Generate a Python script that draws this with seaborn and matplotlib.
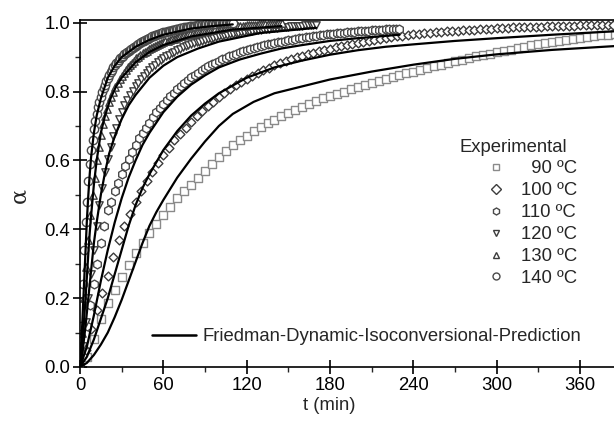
import numpy as np
import pandas as pd
import matplotlib.pyplot as plt
import seaborn as sns
from matplotlib.ticker import MultipleLocator
from matplotlib.lines import Line2D

# experimental conversion curves (alpha vs t, min)
t_90 = np.arange(0, 386, 5)
a_90 = [0, .03, .08, .14, .185, .225, .26, .295, .33, .36, .39, .415, .44, .465, .49, .51,
        .53, .55, .57, .59, .61, .628, .645, .66, .672, .684, .697, .708, .718, .728, .737,
        .746, .755, .764, .772, .78, .787, .794, .8, .806, .812, .818, .824, .83, .836, .842,
        .848, .853, .858, .863, .868, .873, .878, .883, .888, .893, .898, .902, .906, .91,
        .914, .918, .922, .926, .93, .934, .937, .94, .943, .946, .949, .952, .955, .958,
        .96, .963, .965, .967]

t_100 = np.arange(0, 385, 4)
a_100 = [0, .05, .11, .165, .215, .265, .32, .368, .41, .445, .478, .51, .54, .567, .592,
         .615, .637, .658, .677, .695, .712, .728, .743, .757, .771, .784, .796, .807, .818,
         .828, .837, .846, .854, .862, .869, .876, .882, .888, .894, .899, .904, .909, .913,
         .917, .921, .925, .929, .932, .935, .938, .941, .944, .947, .95, .952, .955, .957,
         .96, .962, .964, .966, .968, .969, .971, .972, .974, .975, .976, .977, .978, .979,
         .98, .981, .982, .983, .984, .984, .985, .986, .986, .987, .987, .988, .988, .989,
         .989, .99, .99, .991, .991, .992, .992, .993, .993, .993, .994, .994]

t_110 = np.arange(0, 231, 2.5)
a_110 = [0, .06, .12, .18, .24, .3, .36, .41, .455, .48, .51, .535, .56, .585, .605, .625,
         .645, .665, .68, .695, .71, .725, .74, .752, .764, .776, .787, .797, .807, .816,
         .825, .833, .841, .848, .855, .862, .868, .874, .879, .884, .889, .894, .898, .902,
         .906, .91, .914, .917, .92, .923, .926, .929, .932, .934, .937, .939, .941, .943,
         .945, .947, .949, .951, .953, .955, .956, .958, .959, .961, .962, .963, .965, .966,
         .967, .968, .969, .97, .971, .972, .973, .974, .975, .976, .976, .977, .978, .979,
         .979, .98, .981, .981, .982, .982, .983]

t_120 = np.arange(0, 171, 2)
a_120 = [0, .06, .13, .2, .27, .34, .41, .47, .52, .565, .605, .64, .67, .695, .72, .74, .76,
         .775, .79, .803, .815, .826, .836, .846, .855, .863, .871, .878, .885, .891, .897,
         .902, .907, .912, .916, .92, .924, .928, .931, .934, .937, .94, .943, .945, .948,
         .95, .952, .954, .956, .958, .96, .962, .964, .965, .967, .968, .97, .971, .972,
         .974, .975, .976, .977, .978, .979, .98, .981, .982, .983, .984, .985, .985, .986,
         .987, .988, .988, .989, .99, .99, .991, .991, .992, .992, .993, .993, .994]

t_130 = np.arange(0, 146, 1.5)
a_130 = [0, .1, .2, .29, .37, .44, .5, .55, .6, .64, .675, .705, .73, .75, .77, .785, .8,
         .812, .824, .835, .845, .854, .862, .87, .877, .884, .89, .896, .901, .906, .911,
         .915, .919, .923, .927, .93, .933, .936, .939, .942, .944, .946, .948, .95, .952,
         .954, .956, .958, .96, .962, .963, .965, .966, .968, .969, .97, .972, .973, .974,
         .975, .976, .977, .978, .979, .98, .981, .982, .983, .984, .985, .986, .986, .987,
         .988, .988, .989, .99, .99, .991, .991, .992, .992, .993, .993, .994, .994, .995,
         .995, .995, .996, .996, .996, .997, .997, .997, .998, .998, .998]

t_140 = np.arange(0, 111, 1)
a_140 = [0, .12, .24, .34, .42, .48, .54, .59, .63, .66, .69, .715, .735, .755, .77, .785,
         .8, .81, .82, .83, .84, .848, .856, .863, .87, .876, .882, .887, .892, .897, .9,
         .904, .908, .912, .915, .918, .921, .924, .927, .93, .933, .936, .939, .942, .944,
         .946, .948, .95, .952, .954, .956, .958, .96, .962, .963, .965, .966, .968, .969,
         .97, .972, .973, .974, .975, .976, .977, .978, .979, .98, .981, .982, .983, .984,
         .985, .985, .986, .987, .988, .988, .989, .99, .99, .991, .991, .992, .992, .993,
         .993, .994, .994, .995, .995, .995, .996, .996, .996, .997, .997, .997, .998, .998,
         .998, .998, .999, .999, .999, .999, 1, 1, 1, 1]

# Friedman prediction curves
lt_90 = [0, 5, 10, 15, 20, 25, 30, 35, 40, 45, 50, 55, 60, 70, 80, 90, 100, 110, 125, 140,
         160, 180, 210, 240, 270, 300, 340, 385]
la_90 = [0, .012, .035, .065, .1, .145, .195, .25, .305, .36, .41, .45, .485, .55, .605, .655,
         .7, .735, .77, .795, .815, .835, .858, .878, .895, .908, .921, .932]
lt_100 = [0, 5, 10, 15, 20, 25, 30, 35, 40, 45, 50, 60, 70, 80, 90, 100, 120, 140, 160, 180,
          200, 220, 240, 270, 300, 340, 385]
la_100 = [0, .03, .08, .14, .2, .27, .34, .41, .47, .52, .56, .63, .685, .73, .765, .795, .84,
          .87, .89, .907, .92, .93, .937, .947, .955, .965, .975]
lt_110 = [0, 5, 10, 15, 20, 25, 30, 35, 40, 45, 50, 60, 70, 80, 90, 100, 115, 130, 145, 160,
          180, 200, 230]
la_110 = [0, .06, .15, .25, .34, .42, .49, .55, .6, .645, .68, .74, .785, .82, .847, .87, .893,
          .91, .925, .935, .947, .955, .965]
lt_120 = [0, 2, 4, 6, 8, 10, 12, 15, 18, 21, 25, 30, 35, 40, 50, 60, 70, 85, 100, 130, 170]
la_120 = [0, .05, .12, .2, .28, .36, .42, .5, .565, .62, .67, .72, .76, .79, .84, .875, .9,
          .925, .945, .97, .985]
lt_130 = [0, 1, 2, 3, 4, 5, 6, 7, 8, 10, 12, 15, 18, 22, 26, 30, 40, 50, 60, 80, 110, 145]
la_130 = [0, .03, .08, .14, .2, .265, .33, .39, .44, .53, .6, .68, .73, .78, .815, .84, .885,
          .915, .935, .96, .98, .99]
lt_140 = [0, 1, 2, 3, 4, 5, 6, 7, 8, 10, 12, 15, 20, 25, 30, 40, 50, 60, 80, 95, 110]
la_140 = [0, .07, .16, .25, .34, .43, .5, .56, .61, .68, .73, .78, .84, .875, .9, .93, .95,
          .965, .983, .99, .995]

labels = ["  90 ºC", "100 ºC", "110 ºC", "120 ºC", "130 ºC", "140 ºC"]
markers = ["s", "D", "h", "v", "^", "o"]
edges = ["#8a8a8a", "#3c3c3c", "#4a4a4a", "#3c3c3c", "#3c3c3c", "#4a4a4a"]
sizes = [26, 20, 40, 28, 28, 36]

exp = [(t_90, a_90), (t_100, a_100), (t_110, a_110), (t_120, a_120), (t_130, a_130), (t_140, a_140)]
fits = [(lt_90, la_90), (lt_100, la_100), (lt_110, la_110), (lt_120, la_120), (lt_130, la_130), (lt_140, la_140)]

sns.set_theme(style="ticks")
plt.rcParams['font.family'] = ['Liberation Sans', 'DejaVu Sans']
fs = 13.3

fig = plt.figure(figsize=(6.14, 4.23), dpi=100)
ax = fig.add_axes([0.1303, 0.1324, 0.8822, 0.8192])

for (t, a), m, ec, s in zip(exp, markers, edges, sizes):
    sns.scatterplot(x=t, y=a, marker=m, s=s, color="white", edgecolor=ec, linewidth=1.0,
                    ax=ax, zorder=2, legend=False)

for t, a in fits:
    sns.lineplot(x=t, y=a, color="black", linewidth=1.6, ax=ax, zorder=3, estimator=None)

ax.set_xlim(0, 390)
ax.set_ylim(0, 1.0064)
ax.xaxis.set_major_locator(MultipleLocator(60))
ax.xaxis.set_minor_locator(MultipleLocator(30))
ax.yaxis.set_major_locator(MultipleLocator(0.2))
ax.yaxis.set_minor_locator(MultipleLocator(0.1))
ax.yaxis.set_major_formatter(plt.FormatStrFormatter('%.1f'))
ax.tick_params(which="major", direction="inout", length=10, width=1.2, labelsize=fs,
               colors="black", pad=2)
ax.tick_params(which="minor", direction="out", length=3.5, width=1.0)
for sp in ax.spines.values():
    sp.set_linewidth(1.2)
    sp.set_color("black")

ax.set_xlabel("t (min)", fontsize=fs)
ax.xaxis.set_label_coords(0.46, -0.087)
ax.set_ylabel("α", fontsize=16, family=["DejaVu Serif"])
ax.yaxis.set_label_coords(-0.092, 0.496)

h_exp = [Line2D([], [], linestyle="none", marker=m, markersize=5, markerfacecolor="white",
                markeredgecolor=ec, markeredgewidth=1.0) for m, ec in zip(markers, edges)]
leg1 = ax.legend(h_exp, labels, title="Experimental", loc="upper left",
                 bbox_to_anchor=(0.683, 0.686), frameon=False, alignment="left",
                 handlelength=4, handletextpad=-0.65, labelspacing=0.265, borderpad=0,
                 fontsize=fs, title_fontsize=fs)
ax.add_artist(leg1)
h_fit = [Line2D([], [], color="black", linewidth=1.8)]
ax.legend(h_fit, ["Friedman-Dynamic-Isoconversional-Prediction"], loc="center left",
          bbox_to_anchor=(0.116, 0.0874), frameon=False, handlelength=2.4,
          handletextpad=0.32, borderpad=0, fontsize=fs)

fig.savefig("out.png", dpi=100)
